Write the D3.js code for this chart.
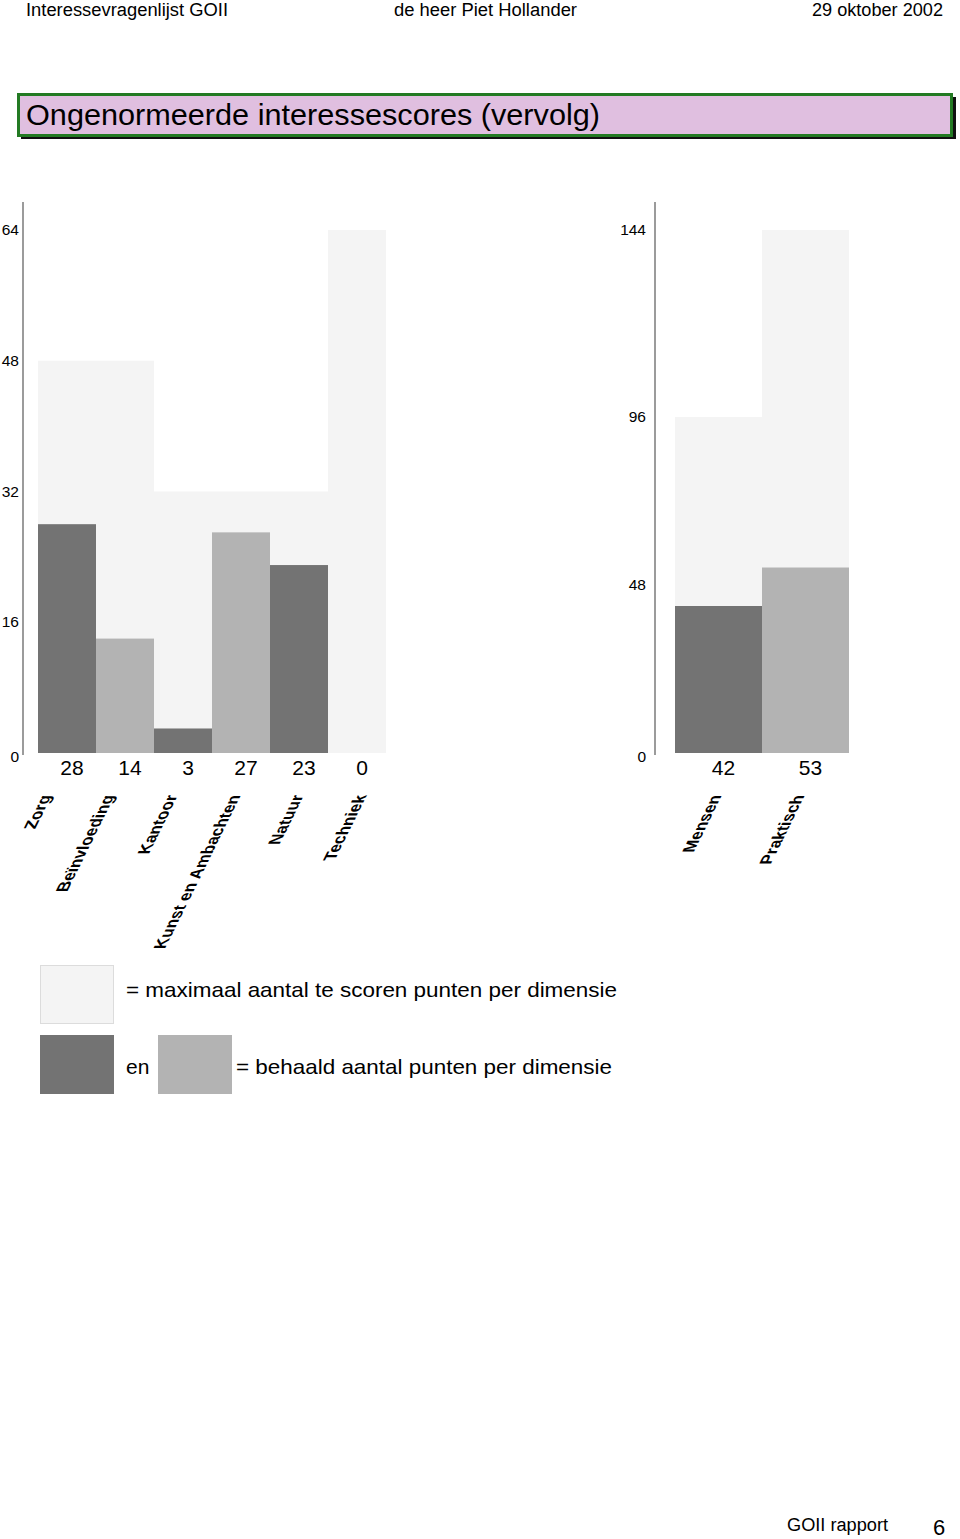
<!DOCTYPE html>
<html>
<head>
<meta charset="utf-8">
<script src="https://cdn.jsdelivr.net/npm/d3@7"></script>
<style>
  body { margin: 0; background: #fff; }
  text { font-family: "Liberation Sans", Arial, sans-serif; }
</style>
</head>
<body>
<script>
// Left chart: interest dimensions
const leftCategories = ['Zorg', 'Beïnvloeding', 'Kantoor', 'Kunst en Ambachten', 'Natuur', 'Techniek'];
const leftMax = [48, 48, 32, 32, 32, 64];
const leftScores = [28, 14, 3, 27, 23, 0];
const leftTicks = [0, 16, 32, 48, 64];

// Right chart: grouped dimensions
const rightCategories = ['Mensen', 'Praktisch'];
const rightMax = [96, 144];
const rightScores = [42, 53];
const rightTicks = [0, 48, 96, 144];

const header = ['Interessevragenlijst GOII', 'de heer Piet Hollander', '29 oktober 2002'];
const title = 'Ongenormeerde interessescores (vervolg)';

const colMax = '#f4f4f4';
const colDark = '#737373';
const colLight = '#b3b3b3';

const svg = d3.select('body').append('svg')
  .attr('width', 960)
  .attr('height', 1539);

// Page header
const headerPos = [[26, 202], [394, 183], [812, 131]];
svg.selectAll('text.header')
  .data(header)
  .join('text')
  .attr('class', 'header')
  .attr('x', (d, i) => headerPos[i][0])
  .attr('y', 16)
  .attr('font-size', 18)
  .attr('textLength', (d, i) => headerPos[i][1])
  .attr('lengthAdjust', 'spacingAndGlyphs')
  .text(d => d);

// Title box with shadow
svg.append('rect')
  .attr('x', 21).attr('y', 97)
  .attr('width', 935).attr('height', 42)
  .attr('fill', '#111');
svg.append('rect')
  .attr('x', 18.5).attr('y', 94.5)
  .attr('width', 933).attr('height', 41)
  .attr('fill', '#e0bfe0')
  .attr('stroke', '#237a23')
  .attr('stroke-width', 3);
svg.append('text')
  .attr('x', 26).attr('y', 125)
  .attr('font-size', 30)
  .attr('textLength', 574)
  .attr('lengthAdjust', 'spacingAndGlyphs')
  .text(title);

// Draws one panel: max bars, score bars, values, slanted names, axis
function drawPanel(cats, maxVals, scores, ticks, x, y, xName, axisX, labelX) {
  const g = svg.append('g');
  const rows = cats.map((c, i) => ({cat: c, max: maxVals[i], score: scores[i], i: i}));

  g.selectAll('rect.max')
    .data(rows)
    .join('rect')
    .attr('class', 'max')
    .attr('x', d => x(d.cat))
    .attr('width', x.bandwidth())
    .attr('y', d => y(d.max))
    .attr('height', d => y(0) - y(d.max))
    .attr('fill', colMax);

  g.selectAll('rect.score')
    .data(rows)
    .join('rect')
    .attr('class', 'score')
    .attr('x', d => x(d.cat))
    .attr('width', x.bandwidth())
    .attr('y', d => y(d.score))
    .attr('height', d => y(0) - y(d.score))
    .attr('fill', d => d.i % 2 === 0 ? colDark : colLight);

  // Score values under the bars
  g.selectAll('text.val')
    .data(rows)
    .join('text')
    .attr('class', 'val')
    .attr('x', d => x(d.cat) + x.bandwidth() / 2 + 5)
    .attr('y', y(0) + 22)
    .attr('text-anchor', 'middle')
    .attr('font-size', 21)
    .text(d => d.score);

  // Dimension names: vertical text sheared to a slant
  g.selectAll('text.cat')
    .data(rows)
    .join('text')
    .attr('class', 'cat')
    .attr('text-anchor', 'end')
    .attr('font-size', 17)
    .attr('font-weight', 'bold')
    .attr('transform', d => 'matrix(0.45,-0.91,1,0,' + xName(d.cat) + ',' + (y(0) + 42) + ')')
    .text(d => d.cat);

  // Axis: plain grey line, labels without tick marks
  g.append('line')
    .attr('x1', axisX).attr('x2', axisX)
    .attr('y1', 202).attr('y2', y(0) + 2)
    .attr('stroke', '#7a7a7a')
    .attr('stroke-width', 1.5);

  g.selectAll('text.tick')
    .data(ticks)
    .join('text')
    .attr('class', 'tick')
    .attr('x', labelX)
    .attr('y', d => y(d) + (d === 0 ? 9 : 5))
    .attr('text-anchor', 'end')
    .attr('font-size', 15.5)
    .text(d => d);
}

const xLeft = d3.scaleBand().domain(leftCategories).range([38, 386]).padding(0);
const yLeft = d3.scaleLinear().domain([0, 64]).range([753, 230]);
const nameLeft = d3.scalePoint().domain(leftCategories).range([52, 367]);
drawPanel(leftCategories, leftMax, leftScores, leftTicks, xLeft, yLeft, nameLeft, 23, 19);

const xRight = d3.scaleBand().domain(rightCategories).range([675, 849]).padding(0);
const yRight = d3.scaleLinear().domain(rightTicks).range([753, 585, 417, 230]);
const nameRight = d3.scalePoint().domain(rightCategories).range([722, 805]);
drawPanel(rightCategories, rightMax, rightScores, rightTicks, xRight, yRight, nameRight, 655, 646);

// Legend
const legend = svg.append('g');
legend.append('rect')
  .attr('x', 40.5).attr('y', 965.5).attr('width', 73).attr('height', 58)
  .attr('fill', colMax).attr('stroke', '#dcdcdc');
legend.append('rect')
  .attr('x', 40).attr('y', 1035).attr('width', 74).attr('height', 59)
  .attr('fill', colDark);
legend.append('rect')
  .attr('x', 158).attr('y', 1035).attr('width', 74).attr('height', 59)
  .attr('fill', colLight);
legend.append('text')
  .attr('x', 126).attr('y', 997).attr('font-size', 21)
  .attr('textLength', 491).attr('lengthAdjust', 'spacingAndGlyphs')
  .text('= maximaal aantal te scoren punten per dimensie');
legend.append('text')
  .attr('x', 126).attr('y', 1074).attr('font-size', 21)
  .text('en');
legend.append('text')
  .attr('x', 236).attr('y', 1074).attr('font-size', 21)
  .attr('textLength', 376).attr('lengthAdjust', 'spacingAndGlyphs')
  .text('= behaald aantal punten per dimensie');

// Footer
svg.append('text')
  .attr('x', 787).attr('y', 1531).attr('font-size', 18)
  .attr('textLength', 101).attr('lengthAdjust', 'spacingAndGlyphs')
  .text('GOII rapport');
svg.append('text')
  .attr('x', 933).attr('y', 1535).attr('font-size', 22)
  .text('6');
</script>
</body>
</html>
